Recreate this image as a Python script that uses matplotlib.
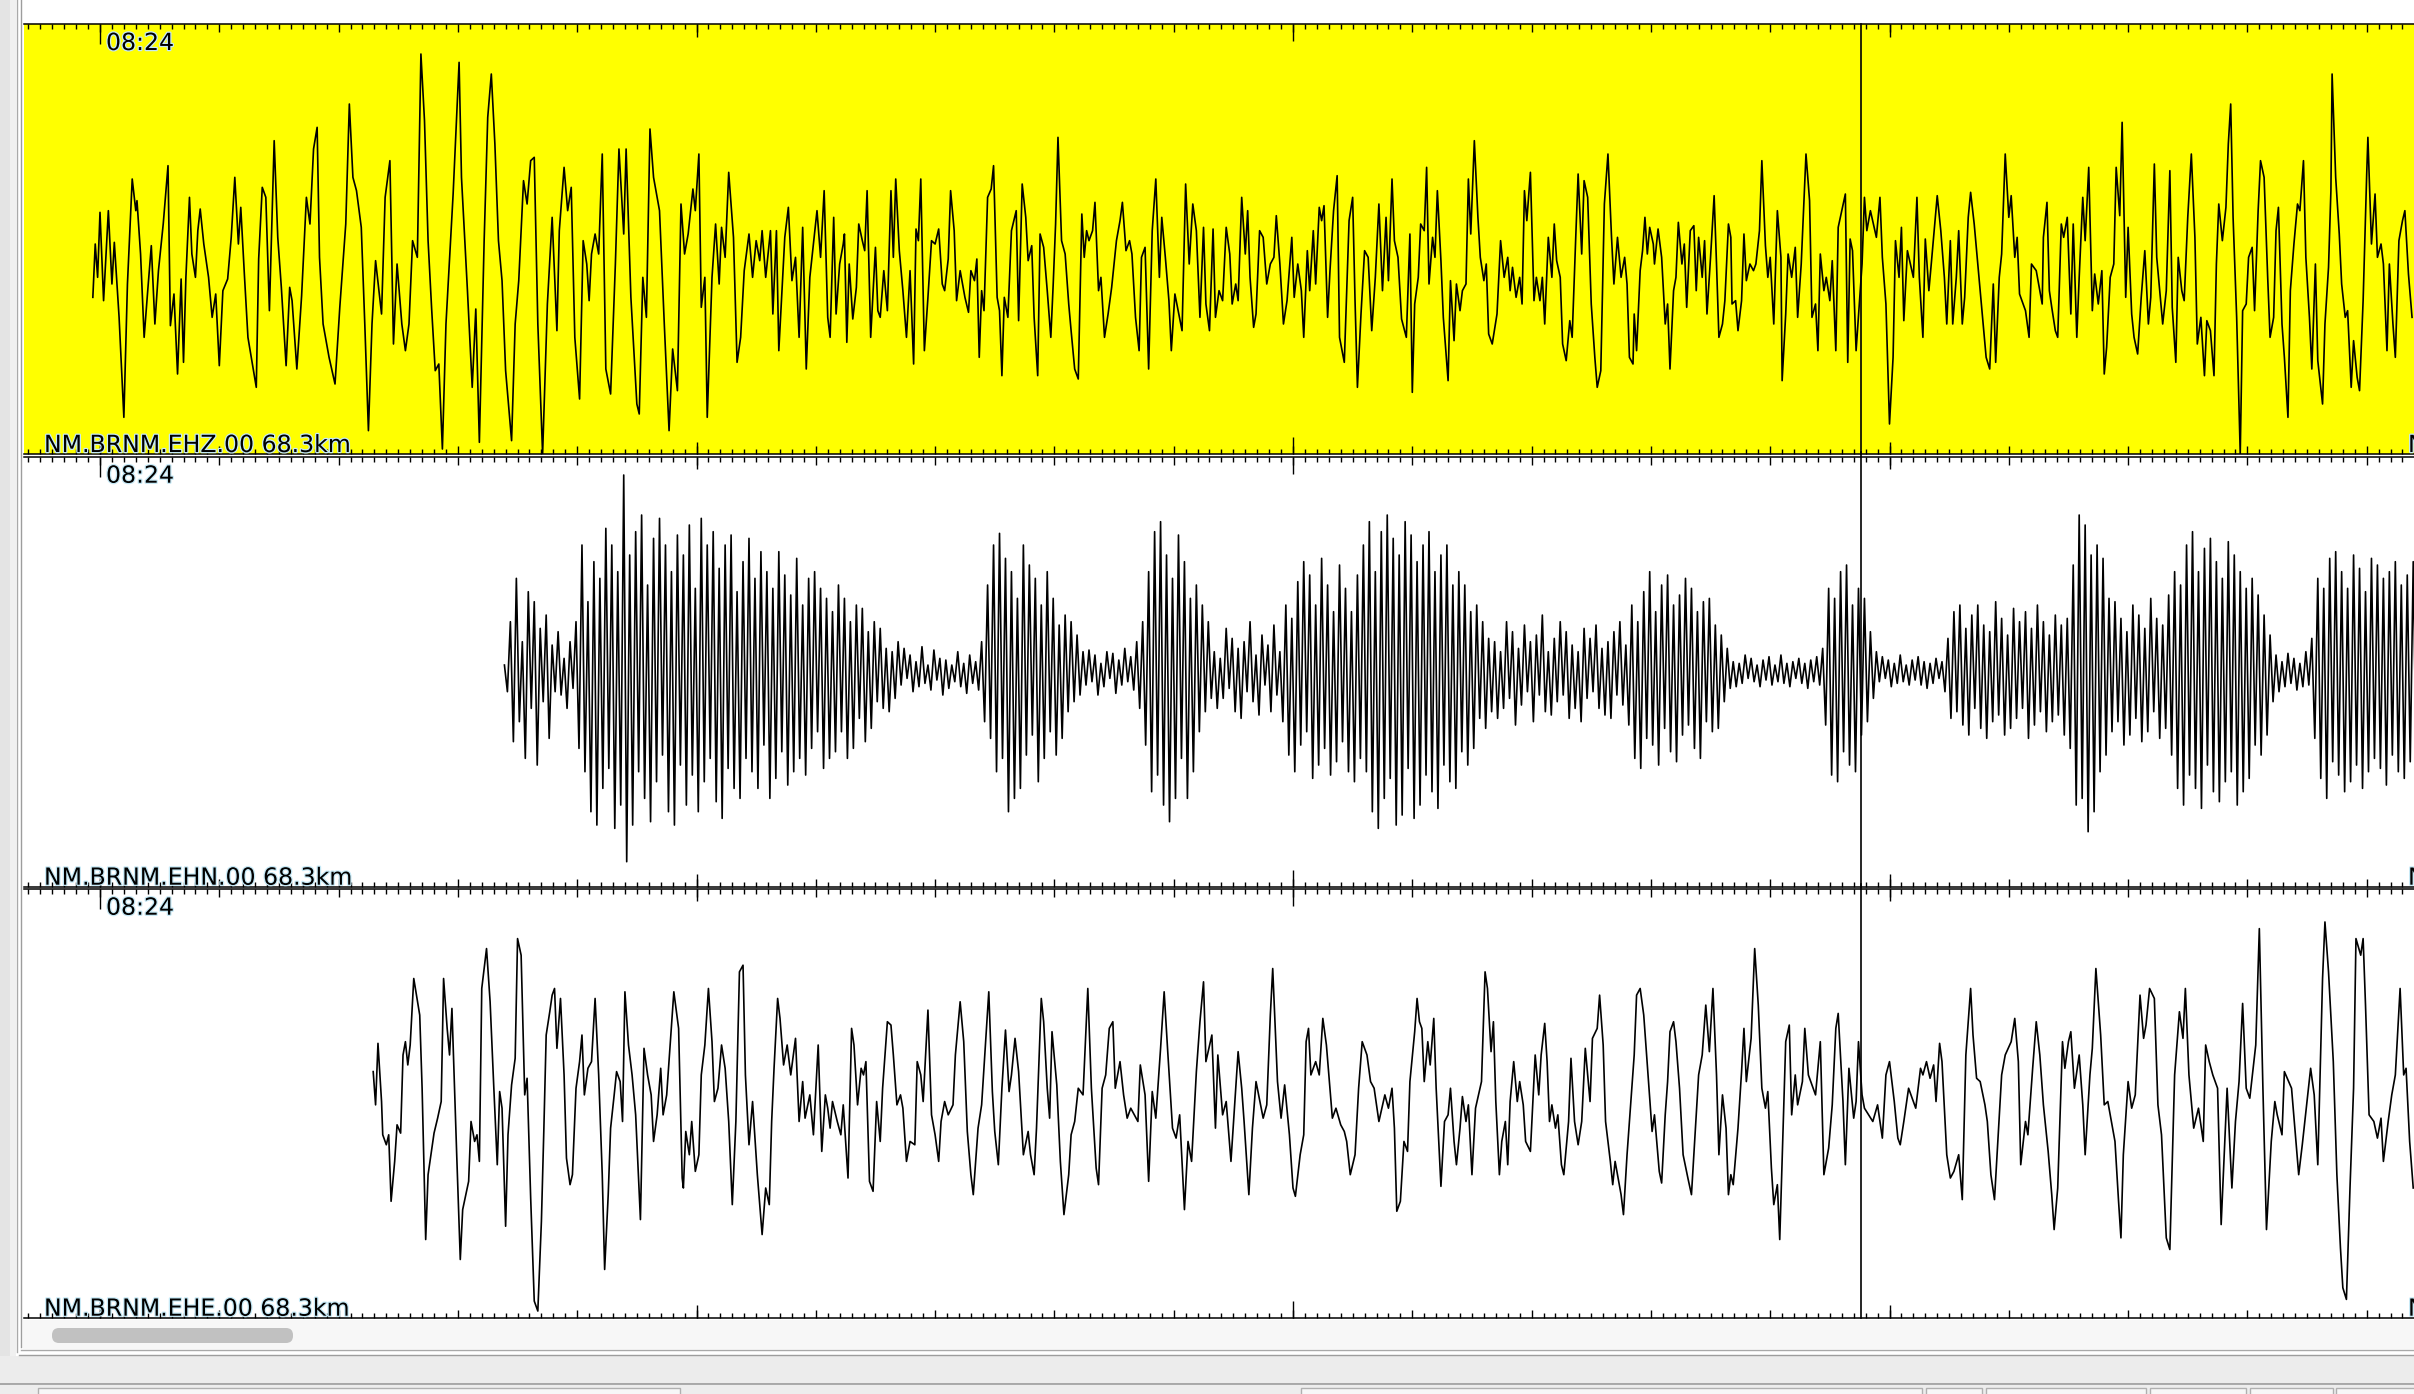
import numpy as np
import matplotlib
matplotlib.use("Agg")
import matplotlib.pyplot as plt
import matplotlib.patheffects as pe
from matplotlib.patches import Rectangle, FancyBboxPatch
from matplotlib.lines import Line2D
from matplotlib.transforms import IdentityTransform
from matplotlib.ticker import MultipleLocator

# === Datos: tiempo en s desde 08:24:00, amplitud en cuentas ===
ehz_t = [
    -0.06, -0.04, -0.02, 0.00, 0.03, 0.07, 0.10, 0.12, 0.16, 0.20, 0.23, 0.27,
    0.30, 0.31, 0.34, 0.37, 0.40, 0.43, 0.46, 0.49, 0.53, 0.57, 0.59, 0.62,
    0.65, 0.68, 0.70, 0.72, 0.75, 0.77, 0.80, 0.82, 0.84, 0.87, 0.91, 0.94,
    0.97, 1.00, 1.03, 1.07, 1.10, 1.13, 1.16, 1.18, 1.21, 1.24, 1.31, 1.33,
    1.36, 1.39, 1.42, 1.46, 1.49, 1.52, 1.56, 1.59, 1.61, 1.65, 1.69, 1.73,
    1.76, 1.79, 1.82, 1.84, 1.87, 1.92, 1.97, 2.01, 2.06, 2.09, 2.12, 2.15,
    2.19, 2.22, 2.25, 2.28, 2.31, 2.36, 2.39, 2.43, 2.46, 2.49, 2.53, 2.56,
    2.59, 2.62, 2.66, 2.69, 2.72, 2.75, 2.78, 2.81, 2.84, 2.87, 2.90, 2.96,
    3.01, 3.03, 3.08, 3.12, 3.15, 3.18, 3.22, 3.25, 3.28, 3.31, 3.34, 3.37,
    3.40, 3.45, 3.48, 3.51, 3.55, 3.58, 3.61, 3.64, 3.67, 3.71, 3.75, 3.79,
    3.83, 3.85, 3.89, 3.92, 3.95, 3.98, 4.02, 4.05, 4.08, 4.10, 4.12, 4.15,
    4.18, 4.21, 4.24, 4.28, 4.32, 4.35, 4.39, 4.41, 4.45, 4.50, 4.52, 4.55,
    4.58, 4.61, 4.64, 4.69, 4.73, 4.77, 4.80, 4.84, 4.87, 4.90, 4.93, 4.97,
    4.99, 5.02, 5.04, 5.07, 5.09, 5.13, 5.16, 5.19, 5.21, 5.24, 5.27, 5.31,
    5.34, 5.37, 5.40, 5.44, 5.47, 5.50, 5.53, 5.55, 5.58, 5.62, 5.64, 5.67,
    5.69, 5.74, 5.77, 5.80, 5.83, 5.86, 5.89, 5.92, 5.95, 6.01,
    6.04, 6.07, 6.10, 6.12, 6.15, 6.17, 6.20, 6.23, 6.24, 6.26, 6.28, 6.31,
    6.34, 6.36, 6.39, 6.41, 6.43, 6.46, 6.50, 6.52, 6.54, 6.57, 6.60, 6.63,
    6.65, 6.67, 6.70, 6.73, 6.76, 6.79, 6.82, 6.84, 6.86, 6.88, 6.91, 6.94,
    6.97, 7.00, 7.03, 7.06, 7.08, 7.11, 7.13, 7.16, 7.18, 7.21, 7.25, 7.28,
    7.30, 7.33, 7.35, 7.37, 7.39, 7.41, 7.44, 7.47, 7.49, 7.52, 7.54, 7.56,
    7.58, 7.61, 7.64, 7.68, 7.70, 7.73, 7.76, 7.78, 7.81, 7.83, 7.86, 7.88,
    7.91, 7.94, 7.97, 7.99, 8.01, 8.03, 8.06, 8.09, 8.12, 8.14, 8.17, 8.20,
    8.23, 8.25, 8.27, 8.29, 8.32, 8.34, 8.37, 8.39, 8.42, 8.45, 8.48, 8.52,
    8.55, 8.57, 8.60, 8.63, 8.65, 8.68, 8.71, 8.73, 8.76, 8.79, 8.82, 8.85,
    8.88, 8.90, 8.93, 8.96, 8.98, 9.01, 9.07, 9.10, 9.13, 9.16, 9.19, 9.22,
    9.25, 9.27, 9.30, 9.33, 9.35, 9.38, 9.41, 9.44, 9.47, 9.49, 9.52, 9.54,
    9.57, 9.60, 9.62, 9.64, 9.67, 9.69, 9.72, 9.75, 9.78, 9.81, 9.84, 9.86,
    9.89, 9.92, 9.95, 9.99, 10.01, 10.04, 10.07, 10.09, 10.12, 10.14, 10.17, 10.19,
    10.22, 10.24, 10.26, 10.29, 10.31, 10.34, 10.37, 10.39, 10.43, 10.45, 10.47, 10.50,
    10.52, 10.54, 10.57, 10.60, 10.63, 10.66, 10.69, 10.72, 10.75, 10.78, 10.80, 10.83,
    10.85, 10.88, 10.91, 10.95, 10.98, 11.00, 11.02, 11.05, 11.07, 11.10, 11.12, 11.14,
    11.17, 11.19, 11.21, 11.24, 11.26, 11.30, 11.32, 11.35, 11.37, 11.40, 11.42, 11.45,
    11.47, 11.49, 11.52, 11.55, 11.57, 11.60, 11.62, 11.64, 11.67, 11.71, 11.74, 11.77,
    11.80, 11.82, 11.84, 11.87, 11.90, 11.92, 11.94, 11.96, 11.99, 12.02, 12.04, 12.07,
    12.09, 12.11, 12.14, 12.17, 12.19, 12.21, 12.24, 12.26, 12.29, 12.32, 12.34, 12.37,
    12.39, 12.42, 12.44, 12.47, 12.50, 12.53, 12.55, 12.58, 12.61, 12.64, 12.67, 12.69, 12.72,
    12.75, 12.78, 12.80, 12.82, 12.85, 12.86, 12.88, 12.91, 12.93, 12.95, 12.97, 12.99,
    13.02, 13.03, 13.06, 13.09, 13.12, 13.14, 13.16, 13.19, 13.21, 13.23, 13.26, 13.28,
    13.30, 13.33, 13.36, 13.38, 13.40, 13.43, 13.45, 13.47, 13.50, 13.53, 13.55, 13.57,
    13.60, 13.62, 13.65, 13.67, 13.68, 13.71, 13.73, 13.76, 13.78, 13.80, 13.83, 13.86,
    13.88, 13.91, 13.93, 13.96, 13.98, 14.00, 14.03, 14.06, 14.09, 14.10, 14.13, 14.15,
    14.18, 14.21, 14.23, 14.26, 14.30, 14.33, 14.35, 14.38, 14.40, 14.42, 14.45, 14.47,
    14.50, 14.52, 14.55, 14.57, 14.63, 14.65, 14.67, 14.69, 14.72, 14.77, 14.79, 14.81,
    14.84, 14.89, 14.92, 14.94, 14.97, 15.00, 15.03, 15.05, 15.08, 15.10, 15.12, 15.15,
    15.20, 15.23, 15.25, 15.28, 15.30, 15.33, 15.35, 15.40, 15.43, 15.46, 15.48, 15.51,
    15.53, 15.56, 15.58, 15.61, 15.63, 15.66, 15.68, 15.71, 15.74, 15.76, 15.81, 15.84,
    15.87, 15.89, 15.92, 15.94, 15.97, 16.00, 16.02, 16.05, 16.07, 16.09, 16.14, 16.17,
    16.19, 16.23, 16.28, 16.29, 16.32, 16.34, 16.36, 16.39, 16.41, 16.44, 16.46, 16.49,
    16.52, 16.54, 16.57, 16.59, 16.62, 16.64, 16.67, 16.70, 16.72, 16.75, 16.78, 16.80,
    16.82, 16.85, 16.88, 16.90, 16.93, 16.95, 16.98, 17.00, 17.03, 17.05, 17.08, 17.11,
    17.14, 17.17, 17.19, 17.22, 17.24, 17.27, 17.29, 17.32, 17.35, 17.37, 17.40, 17.42,
    17.45, 17.47, 17.50, 17.53, 17.56, 17.58, 17.61, 17.64, 17.66, 17.69, 17.72, 17.74,
    17.76, 17.79, 17.82, 17.84, 17.86, 17.88, 17.91, 17.94, 17.96, 17.99, 18.01, 18.04,
    18.06, 18.09, 18.11, 18.14, 18.17, 18.19, 18.22, 18.24, 18.26, 18.29, 18.31, 18.34,
    18.36, 18.39, 18.42, 18.44, 18.47, 18.49, 18.52, 18.54, 18.57, 18.59, 18.63, 18.65,
    18.68, 18.70, 18.71, 18.74, 18.77, 18.79, 18.82, 18.84, 18.87, 18.89, 18.92, 18.94,
    18.97, 19.00, 19.01, 19.04, 19.07, 19.09, 19.12, 19.14, 19.17, 19.19, 19.22, 19.24,
    19.27, 19.30, 19.32, 19.35, 19.38,
]
ehz_a = [
    -175, -15, -115, 80, -185, 85, -135, -10, -235, -535, -135, 180,
    85, 115, -45, -295, -155, -20, -255, -95, 45, 220, -260, -165,
    -405, -120, -370, -115, 125, -45, -115, 25, 90, -15, -115, -235,
    -165, -380, -155, -120, 5, 185, -15, 95, -105, -295, -445, -60,
    155, 125, -215, 295, 5, -145, -380, -145, -185, -390, -170, 125,
    45, 270, 335, -55, -255, -355, -435, -205, 45, 405, 185, 145,
    35, -260, -575, -255, -65, -225, 125, 235, -315, -75, -255, -335,
    -255, -5, -55, 555, 355, -5, -210, -395, -375, -630, -255, 135,
    530, 185, -155, -445, -210, -610, -5, 365, 495, 285, -5, -125,
    -395, -605, -255, -125, 175, 105, 235, 245, -255, -645, -195, 65,
    -275, 25, 215, 85, 155, -295, -480, -5, -75, -185, -45, 15,
    -45, 255, -390, -465, -75, 270, 15, 270, -175, -495, -525, -115,
    -235, 330, 185, 85, -255, -575, -330, -455, 105, -45, 15, 150,
    85, 255, -205, -115, -535, -115, 45, -135, 35, -55, 200, 5,
    -370, -295, -95, 15, -115, -5, -65, 25, -115, 25, -225, 25,
    -335, 5, 95, -125, -55, -295, 35, -390, -115, 85,
    -55, 145, -235, -295, 65, -225, -75, -15, 15, -310, -75, -240,
    -145, 45, -5, -35, 145, -295, -25, -215, -235, -95, -215, 145,
    -55, 180, -35, -155, -295, -95, -375, 30, -5, 180, -335, -175,
    -5, -15, 30, -135, -155, -60, 145, 25, -185, -95, -175, -220,
    -95, -125, -60, -355, -155, -215, 125, 150, 220, -175, -215, -410,
    -175, -235, 25, 85, -245, 165, 65, -65, -20, -235, -410, 15,
    -25, -155, -295, -135, 45, 305, -5, -45, -195, -275, -390, -420,
    75, -55, 25, -5, 25, 110, -155, -115, -295, -225, -145, -5,
    55, 110, -35, -5, -45, -235, -335, -55, -25, -390, 25, 180,
    -115, 65, -55, -185, -335, -165, -275, 165, -75, 105, 25, -235,
    35, -195, -275, 30, -235, -155, -185, 35, -45, -195, -135, -185,
    125, -45, 85, -115, -265, -225, 25, 5, -135, -75, -55, 70,
    -75, -255, -185, 5, -175, -75, -155, -295, -35, -155, 25, -135,
    95, 55, 100, -235, -95, 85, 190, -295, -370, -155, 55, 125,
    -185, -445, -225, -35, -55, -275, -115, 105, -155, 65, -125, 180,
    -5, -55, -240, -295, 15, -460, -195, -115, 45, 25, 215, -135,
    5, -55, 145, -65, -235, -425, -125, -305, -135, -215, -155, -135,
    180, 15, 295, 65, -55, -125, -75, -285, -315, -225, -5, -115,
    -55, -155, -85, -175, -115, -195, 145, 55, 200, -185, -115, -185,
    -115, -255, 5, -115, 45, -65, -115, -315, -365, -245, -295, 5,
    195, -45, 175, 125, -195, -355, -445, -395, 105, 255, 5, -135, 5,
    -115, -55, -135, -355, -375, -225, -335, -95, -35, 65, -45, 35,
    -15, -75, 30, -55, -255, -195, -390, -155, -115, 50, -75, -15,
    -205, 25, 40, -155, 5, -115, -5, -225, -55, 130, -75, -295,
    -255, -185, 45, 5, -195, -185, -275, -185, 15, -125, -75, -95,
    -75, 25, 235, -20, -115, -55, -255, 85, -55, -425, -225, -45,
    -115, -25, -235, -75, 255, 115, -235, -195, -335, -45, -155, -115,
    -185, -65, -335, 35, 135, -370, 0, -35, -335, -75, 125, 25,
    85, 5, 125, -55, -195, -555, -355, -5, -115, 35, -245, -35,
    -115, 125, -115, -295, 0, -155, -75, 130, 25, -115, -255, -5,
    -255, -115, 25, -255, -175, 65, 140, 45, -75, -155, -355, -390,
    -135, -370, -115, -45, 255, 65, 130, -55, 5, -165, -215, -295,
    -75, -95, -195, 5, 110, -155, -205, -275, -295, 45, 5, 65,
    -225, 45, -295, -115, 125, -5, 215, -215, -105, -195, -95, -405,
    -325, -115, -75, 215, 70, 350, -175, 35, -225, -295, -345, -175,
    -35, -255, -175, 225, -55, -175, -255, -155, 205, -205, -370, -55,
    -155, -185, 65, 255, 5, -315, -235, -410, -245, -275, -410, -75,
    105, -5, 95, 285, 405, 65, -235, -645, -215, -195, -55, -25,
    -215, 85, 235, 185, -115, -295, -235, 25, 95, -255, -355, -535,
    -155, -15, 105, 85, 235, -55, -235, -390, -75, -365, -495, -255,
    -85, 145, 495, 185, 15, -135, -235, -215, -445, -305, -415, -455,
    -185, 195, 305, -15, 135, -55, -15, -75, -335, -75, -255, -355,
    -5, 55, 85, -105, -235,
]

# EHN: muestreo uniforme
ehn_inicio = 3.39
ehn_dt = 0.025
ehn_a = [
    20, -60, 150, -210, 280, -150, 90, -260, 240, -110, 210, -280, 130, -90, 170, -200, 80, -60,
    120, -70, 40, -110, 90, -50, 150,
    -230, 380, -300, 210, -420, 330, -460, 280, -350, 430, -290, 380, -470,
    300, -400, 590, -570, 350, -460, 420, -300, 470, -380, 260, -450, 400, -330, 460, -250, 380, -420,
    300, -460, 410, -280, 350, -400, 440, -310, 250, -420, 460, -330, 380, -260, 420, -390, 310, -440,
    380, -290, 410, -350, 240, -380, 330, -260, 400, -300, 280, -350, 360, -220, 300, -380, 250, -320,
    360, -240, 290, -340, 230, -300, 340, -260, 200, -310, 280, -230, 300, -180, 250, -290, 220, -260, 180, -240,
    260, -180, 220, -260, 150, -230, 200, -140, 190, -210, 120, -170, 150, -90, 130, -110, 70, -120, 60, -80, 90,
    -40, 70, -20, 50, -60, 30, -45, 75, -35, 20, -55, 65, -25, 40, -70, 35, -50, 20, -30, 60, -45, 25, -65, 50, -35, 30, -55, 90,
    -150, 260, -200, 380, -300, 415, -260, 340, -420, 300, -380, 220, -350, 380, -250, 320, -190,
    280, -330, 200, -260, 300, -180, 220, -250, 140, -200, 170, -120, 150, -90, 110, -70, 60,
    -40, 65, -30, 50, -70, 25, -45, 60, -20, 55, -65, 35, -40, 70, -30, 45, -55, 90, -110, 150,
    -220, 300, -360, 420, -310, 450, -400, 350, -450, 280, -380, 410, -260, 330, -380, 220, -300, 260, -180, 200, -120, 150, -80,
    60, -110, 40, -80, 130, -50, 100, -120, 70, -140, 90, -60, 150, -90, 50, -130, 110, -40, 80, -120, 140, -70, 60, -150,
    200, -250, 160, -300, 270, -220, 330, -180, 290, -320, 200, -280, 340, -230, 260, -310, 180, -270, 320, -210, 250, -300, 180, -330, 290, -260,
    380, -300, 450, -420, 300, -470, 420, -380, 470, -320, 400, -460, 350, -430, 450, -290, 410, -440, 330, -400, 380, -310,
    420, -360, 300, -410, 350, -280, 380, -330, 260, -350, 300, -240, 260, -280, 180, -230, 200, -140, 150, -170, 100, -120,
    90, -140, 60, -110, 150, -80, 120, -160, 70, -100, 140, -60, 90, -150, 110, -70, 170, -120, 60, -130, 100, -90, 150,
    -70, 120, -140, 80, -110, 60, -150, 130, -80, 100, -60, 140, -110, 70, -130, 90, -140, 120, -70, 150, -100, 80, -160,
    200, -260, 150, -290, 240, -200, 300, -220, 180, -280, 260, -170, 290, -240, 200, -270, 230,
    -190, 280, -160, 250, -230, 180, -260, 210, -150, 220, -180, 140, -170, 110, -90, 70, -50,
    30, -45, 25, -35, 50, -20, 40, -30, 20, -45, 35, -25, 45, -40, 20, -30, 50, -35, 25, -45, 30, -20, 40, -35, 25, -50, 35, -30, 45, -40, 70,
    -160, 250, -310, 220, -330, 300, -240, 320, -280, 200, -300, 250, -190, 220, -150, 120, -80, 60,
    -30, 45, -20, 35, -45, 25, -35, 50, -30, 20, -40, 35, -25, 45, -40, 30, -50, 25, -35, 40, -20, 30, -60,
    100, -140, 180, -120, 200, -160, 130, -190, 170, -110, 200, -170, 140, -200, 120, -150, 210, -130, 160, -190, 110,
    -170, 190, -140, 150, -110, 180, -200, 130, -160, 200, -120, 150, -180, 110, -150, 170, -130, 140, -190, 160, -230,
    320, -400, 470, -380, 440, -480, 350, -420, 380, -300, 340, -250, 220, -180,
    210, -150, 160, -220, 120, -190, 200, -140, 170, -210, 130, -180, 220, -120, 160, -200, 140, -170, 230, -250,
    300, -350, 260, -400, 380, -310, 420, -350, 300, -410, 370, -280, 400, -360, 330, -390, 280,
    -330, 390, -300, 350, -400, 300, -360, 250, -320, 280, -220, 230, -250, 170, -190, 110, -90,
    50, -60, 30, -45, 55, -35, 40, -55, 25, -45, 60, -40, 100,
    -200, 280, -320, 250, -380, 340, -270, 360, -310, 300, -360, 250, -330, 350, -280, 310, -350, 240,
    -300, 340, -260, 320, -290, 280, -340, 300, -250, 330, -300, 260, -320, 290, -270, 330, -280,
]

ehe_t = [
    2.29, 2.31, 2.33, 2.36, 2.37, 2.40, 2.42, 2.44, 2.47, 2.49, 2.52, 2.54,
    2.56, 2.58, 2.60, 2.63, 2.68, 2.70, 2.73, 2.75, 2.80, 2.83, 2.86, 2.88,
    2.91, 2.93, 2.95, 2.97, 2.99, 3.02, 3.04, 3.09, 3.11, 3.14, 3.16, 3.18,
    3.20, 3.24, 3.27, 3.30, 3.33, 3.35, 3.37, 3.40, 3.42, 3.45, 3.48, 3.50,
    3.53, 3.56, 3.58, 3.61, 3.64, 3.67, 3.70, 3.72, 3.74, 3.77, 3.79, 3.81,
    3.83, 3.86, 3.89, 3.91, 3.94, 3.96, 3.99, 4.02, 4.04, 4.06, 4.09, 4.12,
    4.15, 4.18, 4.21, 4.23, 4.26, 4.28, 4.31, 4.33, 4.36, 4.38, 4.40, 4.43,
    4.46, 4.49, 4.53, 4.56, 4.59, 4.62, 4.64, 4.67, 4.70, 4.72, 4.75, 4.81,
    4.85, 4.88, 4.89, 4.91, 4.94, 4.96, 4.99, 5.02, 5.04, 5.07, 5.10, 5.13,
    5.15, 5.18, 5.21, 5.24, 5.27, 5.30, 5.33, 5.36, 5.39, 5.41, 5.44, 5.47,
    5.51, 5.55, 5.58, 5.61, 5.63, 5.65, 5.68, 5.70, 5.73, 5.76, 5.79, 5.83,
    5.86, 5.89, 5.91, 5.95, 5.98, 6.02, 6.05, 6.08, 6.10, 6.12, 6.14, 6.18,
    6.21, 6.23, 6.27, 6.30, 6.32, 6.35, 6.38, 6.40, 6.42, 6.45, 6.48, 6.51,
    6.54, 6.56, 6.60, 6.63, 6.65, 6.68, 6.71, 6.73, 6.76, 6.79, 6.83, 6.85,
    6.88, 6.90, 6.94, 6.97, 7.00, 7.03, 7.05, 7.08, 7.11, 7.15, 7.17, 7.21,
    7.24, 7.27, 7.30, 7.32, 7.36, 7.39, 7.45, 7.48, 7.50, 7.53, 7.56, 7.59,
    7.62, 7.64, 7.67, 7.70, 7.74, 7.78, 7.80, 7.83, 7.85, 7.89, 7.91, 7.94,
    7.96, 7.98, 8.02, 8.05, 8.08, 8.12, 8.14, 8.17, 8.20, 8.24, 8.28, 8.31,
    8.35, 8.37, 8.40, 8.43, 8.46, 8.49, 8.51, 8.55, 8.58, 8.61, 8.64, 8.70,
    8.72, 8.76, 8.79, 8.82, 8.85, 8.89, 8.92, 8.95, 8.99, 9.02, 9.05, 9.09,
    9.12, 9.15, 9.19, 9.22, 9.25, 9.27, 9.32, 9.35, 9.37, 9.41, 9.44, 9.48,
    9.52, 9.54, 9.57, 9.59, 9.63, 9.66, 9.69, 9.75, 9.78, 9.81, 9.83, 9.87,
    9.90, 9.93, 9.97, 10.00, 10.02, 10.06, 10.09, 10.11, 10.13, 10.15, 10.19, 10.22,
    10.25, 10.28, 10.31, 10.33, 10.36, 10.40, 10.43, 10.45, 10.48, 10.52, 10.55, 10.58,
    10.62, 10.65, 10.68, 10.72, 10.77, 10.80,
    10.83, 10.85, 10.87, 10.90, 10.93, 10.96, 10.98, 11.02, 11.04, 11.06, 11.08, 11.10,
    11.13, 11.15, 11.18, 11.20, 11.24, 11.27, 11.30, 11.32, 11.35, 11.37, 11.40, 11.42,
    11.45, 11.47, 11.50, 11.53, 11.58, 11.61, 11.63, 11.66, 11.68, 11.70, 11.73, 11.75,
    11.78, 11.80, 11.82, 11.85, 11.88, 11.90, 11.93, 11.95, 11.99, 12.03, 12.06, 12.08,
    12.11, 12.13, 12.15, 12.17, 12.20, 12.22, 12.25, 12.27, 12.31, 12.33, 12.36, 12.39,
    12.42, 12.45, 12.47, 12.49, 12.51, 12.55, 12.57, 12.60, 12.62, 12.66, 12.68, 12.70,
    12.72, 12.75, 12.77, 12.80, 12.83, 12.86, 12.88, 12.91, 12.94, 12.98, 13.01, 13.03,
    13.07, 13.09, 13.12, 13.14, 13.16, 13.19, 13.21, 13.24, 13.27, 13.31, 13.34, 13.36,
    13.40, 13.43, 13.46, 13.49, 13.52, 13.55, 13.57, 13.60, 13.63, 13.65, 13.67, 13.69,
    13.73, 13.76, 13.78, 13.80, 13.84, 13.87, 13.90, 13.93, 13.96, 13.98, 14.01, 14.03,
    14.06, 14.08, 14.11, 14.13, 14.16, 14.18, 14.21, 14.23, 14.27, 14.29, 14.32, 14.38,
    14.42, 14.45, 14.49, 14.52, 14.55, 14.57, 14.61, 14.63, 14.66, 14.70, 14.72, 14.74,
    14.77, 14.79, 14.86, 14.90, 14.94, 14.97, 15.00, 15.04, 15.07, 15.09, 15.12, 15.16,
    15.22, 15.26, 15.28, 15.31, 15.34, 15.37, 15.39, 15.42, 15.44, 15.48, 15.51, 15.54,
    15.58, 15.61, 15.64, 15.68, 15.70, 15.73, 15.76, 15.80, 15.82, 15.85, 15.88, 15.91,
    15.94, 15.97, 16.02, 16.05, 16.08, 16.10, 16.14, 16.16, 16.20, 16.23, 16.26, 16.29,
    16.33, 16.36, 16.38, 16.41, 16.45, 16.47, 16.50, 16.52, 16.55, 16.59, 16.62, 16.64,
    16.68, 16.70, 16.73, 16.77, 16.80, 16.83, 16.86, 16.89, 16.92, 16.94, 16.96, 17.00,
    17.03, 17.06, 17.10, 17.13, 17.15, 17.18, 17.22, 17.25, 17.28, 17.32, 17.35, 17.39,
    17.43, 17.46, 17.48, 17.51, 17.55, 17.59, 17.63, 17.65, 17.68, 17.71, 17.75, 17.78,
    17.81, 17.83, 17.87, 17.90, 17.93, 17.96, 17.99, 18.02, 18.07, 18.10, 18.13, 18.16,
    18.20, 18.23, 18.25, 18.29, 18.31, 18.37, 18.43, 18.46, 18.50, 18.53, 18.56, 18.59,
    18.63, 18.65, 18.68, 18.72, 18.75, 18.78, 18.80, 18.83, 18.86, 18.89, 18.91, 18.95,
    18.97, 18.99, 19.02, 19.06, 19.09, 19.12, 19.14, 19.18, 19.21, 19.24, 19.28, 19.31,
    19.33, 19.36, 19.39,
]
ehe_a = [
    95, -5, 180, 5, -95, -125, -95, -295, -175, -65, -90, 145,
    185, 115, 175, 375, 265, 45, -410, -215, -90, -45, 5, 375,
    225, 145, 285, 65, -155, -470, -320, -235, -55, -115, -95, -175,
    345, 465, 305, 55, -185, 35, -15, -370, -95, 55, 135, 495,
    445, 25, 75, -285, -595, -625, -355, -85, 205, 275, 325, 345,
    165, 315, 85, -165, -245, -215, 45, 125, 205, 25, 105, 125,
    315, 85, -215, -500, -275, -75, 25, 95, 65, -55, 335, 175,
    85, -35, -350, 165, 85, 25, -115, -35, 105, -35, 25, 335,
    225, -225, -255, -85, -155, -55, -205, -155, 85, 175, 345, 185,
    5, 45, 175, 105, -55, -305, -55, 395, 415, 85, -125, 5,
    -215, -395, -255, -305, -55, 105, 315, 255, 115, 175, 85, 195,
    -55, 65, -45, 25, -95, 175, -145, 25, -15, -75, 5, -55,
    -95, -5, -225, 225, 175, -5, 105, 85, 125, -235, -265, 5,
    -115, 45, 245, 235, 145, -5, 25, -15, -175, -115, -125, 125,
    85, 5, 280, -35, -95, -175, -55, 5, -35, -5, 145, 305,
    185, -85, -215, -275, -75, -5, 335, 35, -85, -185, 45, 220,
    35, 85, 195, 95, -155, -85, -155, -215, -75, 315, 245, 45,
    -45, 215, 55, -175, -335, -215, -95, -55, 45, 25, 345, 45,
    -195, -245, 45, 85, 225, 245, 45, 125, 25, -45, -15, -55,
    115, 25, -235, 35, -45, 165, 335, 155, -75, -105, -35, -320,
    -115, -175, 95, 245, 365, 125, 205, -75, 145, -35, 5, -175,
    45, 155, 45, -55, -275, -75, 65, -45, -5, 265, 405, 65,
    -45, 55, -95, -255, -280, -155, -95, 185, 225, 85, 125, 85,
    255, 175, 45, -45, -15, -65, -85, -115, -215, -155, 45, 185,
    145, 65, 45, -55, 25, -15,
    45, -75, -325, -295, -115, -145, 65, 215, 315, 245, 225, 65,
    185, 115, 255, 45, -250, -55, -35, 45, -115, -185, -75, 20,
    -55, -5, -215, -15, 65, 395, 345, 155, 245, 5, -215, -115,
    -55, -185, 5, 125, 5, 65, -5, -115, -145, 145, 25, 145,
    240, 125, -55, -5, -75, -35, -185, -215, -55, 135, -55, -125,
    -55, 165, 85, 5, 195, 225, 325, 175, -55, -175, -245, -175,
    -215, -275, -335, -155, -5, 145, 325, 345, 265, 65, -85, -35,
    -205, -240, -35, 65, 215, 245, 185, 45, -155, -225, -275, -155,
    85, 145, 295, 155, 345, 85, -155, 25, -75, -275, -215, -245,
    -75, 95, 225, 65, 195, 465, 295, 45, -15, 35, -195, -305,
    -245, -410, -55, 185, 235, -35, 85, -5, 65, 225, 85, 25,
    185, -215, -135, -5, 225, 270, 5, -185, 105, -45, 5, 185,
    25, -15, -55, -5, -105, 85, 125, 5, -105, -125, -55, 45,
    -15, 105, 85, 125, 75, 115, 5, 180, 125, -155, -225, -205,
    -155, -290, 145, 345, 205, 75, 65, -5, -55, -215, -290, -105,
    85, 145, 185, 255, 125, -185, -55, -95, 105, 245, 145, -5,
    -145, -275, -380, -255, 185, 105, 185, 215, 45, 145, -5, -155,
    85, 165, 405, 205, -5, 5, -55, -115, -295, -405, -155, 65,
    -15, 25, 325, 195, 235, 345, 315, -5, -95, -405, -440, 85,
    275, 195, 345, 85, -75, -15, -115, 175, 125, 85, 45, -365,
    -115, 45, -255, -55, 65, 300, 45, 15, 175, 525, 45, -380,
    -115, 5, -35, -95, 95, 45, -215, -125, 5, 105, 25, -185,
    375, 545, 395, 125, -215, -435, -555, -590, -255, 45, 495, 445,
    495, 295, -35, -55, -105, -45, -175, -55, 25, 85, 345, 85,
    105, -115, -255,
]

red, estacion, loc, dist_km = "NM", "BRNM", "00", 68.3
canales = ["EHZ", "EHN", "EHE"]
hora_marca = "08:24"
t_cursor = 14.76

# === Geometria de la ventana (pixeles) ===
W, H = 2414, 1394
PX_S = 119.3       # pixeles por segundo
X_T0 = 100         # pixel del tick 08:24
paneles = [(24.0, 454.0), (456.7, 886.7), (888.7, 1317.7)]
fondos = ["#ffff00", "white", "white"]
ticks_largos = {0: 20, 5: 12.5, 10: 17, 15: 12.5}

fig = plt.figure(figsize=(W / 100, H / 100), dpi=100)
fig.patch.set_facecolor("white")

halo = [pe.withStroke(linewidth=1.8, foreground="#c6e9f6")]
trazas = [
    (ehz_t, ehz_a),
    (ehn_inicio + ehn_dt * np.arange(len(ehn_a)), ehn_a),
    (ehe_t, ehe_a),
]

for i, ((top, bot), fondo, canal, (t, a)) in enumerate(zip(paneles, fondos, canales, trazas)):
    alto = bot - top
    ax = fig.add_axes([24 / W, 1 - bot / H, (W - 24) / W, alto / H])
    ax.set_facecolor(fondo)
    ax.set_xlim((24 - X_T0) / PX_S, (W - X_T0) / PX_S)
    ax.set_ylim(-645, 645)

    ax.plot(t, a, color="black", lw=1.2)

    for lado in ["left", "right"]:
        ax.spines[lado].set_visible(False)
    for lado in ["top", "bottom"]:
        ax.spines[lado].set_linewidth(1.1)

    ax.xaxis.set_major_locator(MultipleLocator(1))
    ax.xaxis.set_minor_locator(MultipleLocator(0.1))
    ax.yaxis.set_major_locator(plt.NullLocator())
    ax.tick_params(which="both", direction="in", top=True, bottom=True,
                   labelbottom=False, left=False, labelleft=False, width=1.0)
    ax.tick_params(which="major", length=5.8)
    ax.tick_params(which="minor", length=3.3)

    for tk, largo in ticks_largos.items():
        f = largo / alto
        ax.plot([tk, tk], [1, 1 - f], transform=ax.get_xaxis_transform(),
                color="black", lw=1.0, solid_capstyle="butt", clip_on=False)
        ax.plot([tk, tk], [0, f], transform=ax.get_xaxis_transform(),
                color="black", lw=1.0, solid_capstyle="butt", clip_on=False)

    # cursor de tiempo
    ax.axvline(t_cursor, ymin=0, ymax=1.0 if i == 0 else 1.01,
               color="black", lw=1.2, clip_on=False)

    ax.annotate(hora_marca, xy=(0, 1), xycoords=("data", "axes fraction"),
                xytext=(6, -26), textcoords="offset pixels",
                fontsize=17, va="baseline", ha="left", path_effects=halo)
    ax.annotate(f"{red}.{estacion}.{canal}.{loc} {dist_km}km", xy=(0, 0),
                xycoords="axes fraction", xytext=(20, 2), textcoords="offset pixels",
                fontsize=17, va="baseline", ha="left", path_effects=halo, zorder=5)
    # etiqueta siguiente, cortada en el borde derecho como en la ventana
    ax.annotate("N", xy=(1, 0), xycoords="axes fraction", xytext=(-6, 2),
                textcoords="offset pixels", fontsize=17, va="baseline",
                ha="left", path_effects=halo, zorder=5)


# === Marco de la ventana (pixeles, origen arriba-izquierda) ===
def caja(x0, y0, x1, y1, color, borde="none"):
    fig.add_artist(Rectangle((x0, H - y1), x1 - x0, y1 - y0, transform=IdentityTransform(),
                             facecolor=color, edgecolor=borde, lw=1.0))


def linea(xs, ys, color, lw=1.0):
    fig.add_artist(Line2D(xs, [H - y for y in ys], transform=IdentityTransform(),
                          color=color, lw=lw))


caja(0, 0, 10, 1394, "#e4e4e4")
caja(10, 0, 16, 1356, "#f0f0f0")
caja(22.5, 1319.5, W, 1349, "#f7f7f7")
caja(0, 1356, W, 1384, "#ececec")
caja(0, 1385, W, 1394, "#ededed")
linea([17, 17], [0, 1352], "#a9a9a9", 1.0)
linea([21.2, 21.2], [0, 1347], "#9d9d9d", 1.0)
linea([21, W], [1350.3, 1350.3], "#a9a9a9", 1.0)
linea([19, W], [1355, 1355], "#9d9d9d", 1.0)
linea([0, W], [1384, 1384], "#9b9b9b", 1.2)
for x0, x1 in [(38, 680), (1301, 1922), (1926, 1982), (1986, 2146),
               (2150, 2246), (2250, 2333), (2336, 2420)]:
    caja(x0, 1388, x1, 1400, "#f7f7f7", borde="#b0b0b0")

fig.add_artist(FancyBboxPatch((52, H - 1343), 241, 15, transform=IdentityTransform(),
                              boxstyle="round,pad=0,rounding_size=7",
                              facecolor="#c1c1c1", edgecolor="none"))

fig.savefig("out.png", dpi=100, facecolor=fig.get_facecolor())
